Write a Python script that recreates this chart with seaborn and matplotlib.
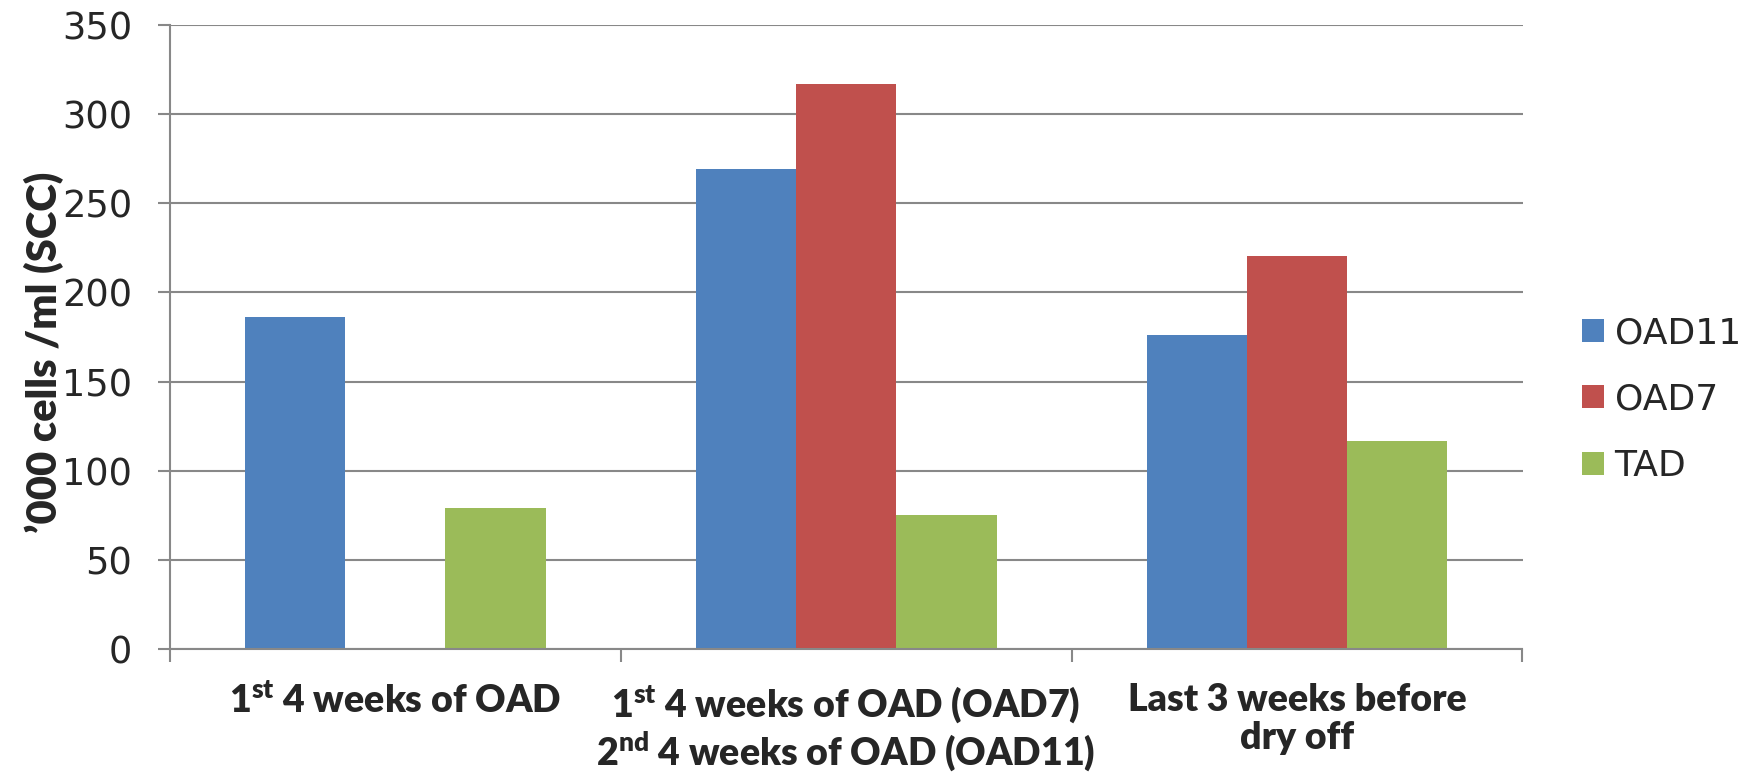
import numpy as np
import pandas as pd
import matplotlib
matplotlib.use("Agg")
import matplotlib.pyplot as plt
import seaborn as sns

# Chart data
categories = [
    "$\\mathbf{1^{st}}$ 4 weeks of OAD",
    "$\\mathbf{1^{st}}$ 4 weeks of OAD (OAD7)\n$\\mathbf{2^{nd}}$ 4 weeks of OAD (OAD11)",
    "Last 3 weeks before\ndry off",
]
series = ["OAD11", "OAD7", "TAD"]
oad11 = [186, 269, 176]
oad7 = [np.nan, 317, 220.5]
tad = [79.5, 75.5, 116.5]
y_ticks = [0, 50, 100, 150, 200, 250, 300, 350]
colors = ["#4F81BD", "#C0504D", "#9BBB59"]

sns.set_style("white")
plt.rcParams["font.family"] = ["DejaVu Sans"]
plt.rcParams["mathtext.fontset"] = "custom"
plt.rcParams["mathtext.bf"] = "Lato:heavy"
plt.rcParams["mathtext.rm"] = "Lato:heavy"

label_font = ["Lato", "DejaVu Sans"]

# Long-format table for seaborn
df = pd.DataFrame({
    "category": categories * 3,
    "series": [s for s in series for _ in categories],
    "value": oad11 + oad7 + tad,
})

fig = plt.figure(figsize=(17.5, 7.74), dpi=100)
ax = fig.add_axes([0.097, 0.161, 0.773, 0.807])

sns.barplot(data=df, x="category", y="value", hue="series", order=categories,
            hue_order=series, palette=colors, width=0.667, errorbar=None,
            linewidth=0, saturation=1, ax=ax)

grid_color = "#888888"
ax.set_ylim(0, 350)
ax.set_xlim(-0.5, 2.5)
ax.set_yticks(y_ticks)
ax.yaxis.grid(True, color=grid_color, linewidth=1.5)
ax.set_axisbelow(True)
for side in ["top", "right"]:
    ax.spines[side].set_visible(False)
for side in ["left", "bottom"]:
    ax.spines[side].set_color(grid_color)
    ax.spines[side].set_linewidth(1.5)

ax.tick_params(axis="y", length=9, width=1.5, color=grid_color, labelsize=26.5, pad=18, left=True)
ax.set_xticks([-0.5, 0.5, 1.5, 2.5], minor=True)
ax.tick_params(axis="x", which="minor", length=9, width=1.5, color=grid_color, bottom=True)
ax.tick_params(axis="x", which="major", length=0, pad=24)
ax.set_xticklabels(categories, fontsize=27, fontweight="heavy",
                   family=label_font, linespacing=1.15)

ax.set_xlabel("")
ax.set_ylabel("\u2019000 cells /ml (SCC)", fontsize=30, fontweight="heavy",
              family=label_font)
ax.yaxis.set_label_coords(-0.078, 0.475)

handles, labels = ax.get_legend_handles_labels()
ax.legend(handles, labels, loc="center left", bbox_to_anchor=(1.02, 0.40),
          frameon=False, fontsize=26, handlelength=0.6, handleheight=0.6,
          handletextpad=0.3, labelspacing=0.9)

plt.savefig("out.png", dpi=100)
